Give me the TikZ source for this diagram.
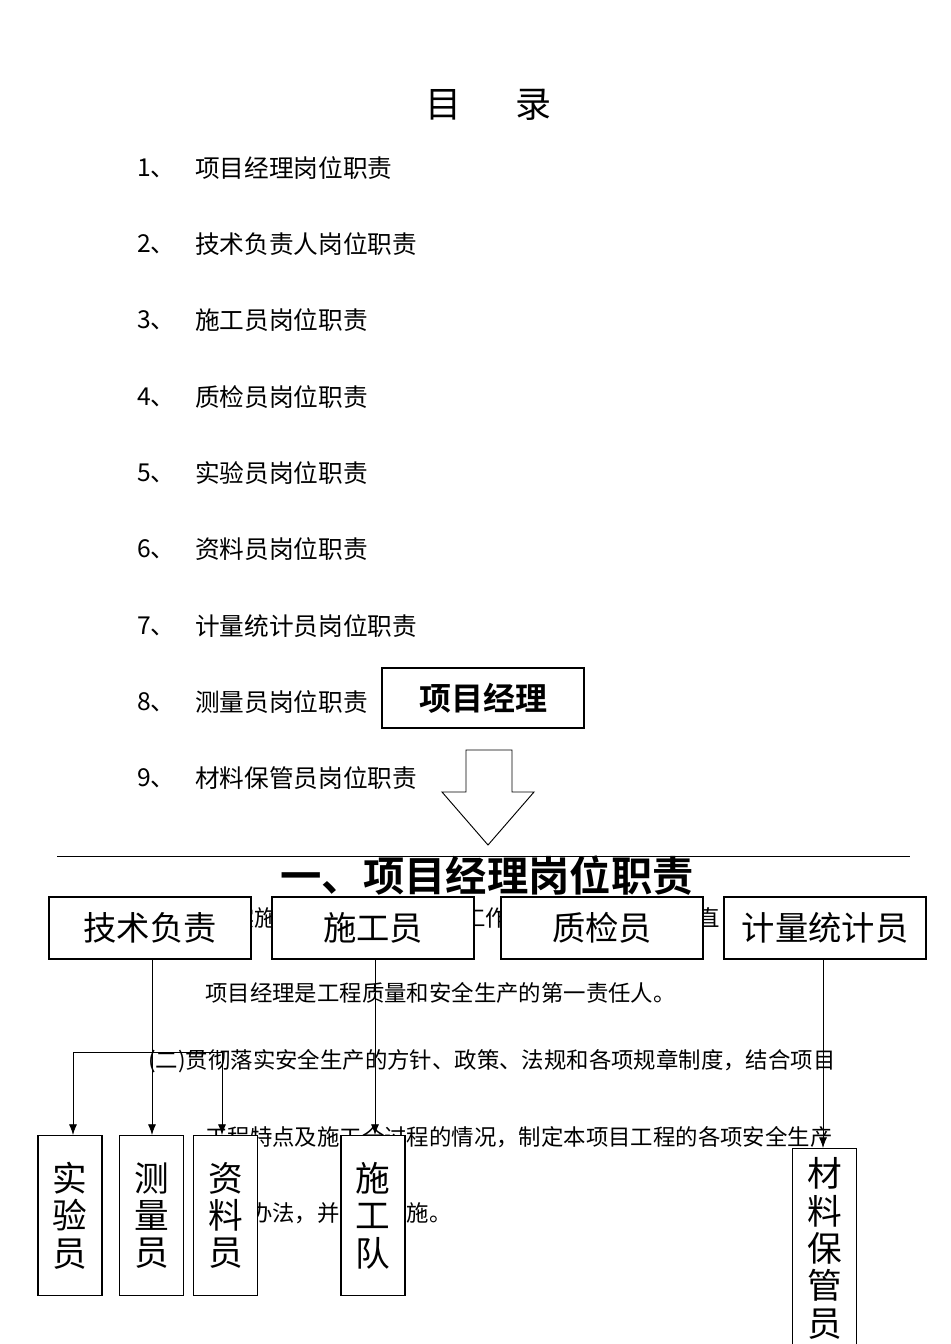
\documentclass[tikz,border=0pt]{standalone}
\usepackage{fontspec}
\setmainfont{Liberation Serif}
\newfontfamily\cjk{Noto Sans CJK SC}
\newfontfamily\cjkb{Noto Sans CJK SC Bold}
\begin{document}
\begin{tikzpicture}[x=0.75pt,y=-0.75pt,
  txt/.style={anchor=west,inner sep=0pt,font=\cjk\fontsize{18.5pt}{20pt}\selectfont},
  ptxt/.style={anchor=west,inner sep=0pt,font=\cjk\fontsize{16.8pt}{18pt}\selectfont},
  hbox/.style={draw,fill=white,line width=0.8pt,minimum width=151.5pt,minimum height=46.5pt,font=\cjk\fontsize{25pt}{27pt}\selectfont},
  vbox/.style={draw,fill=white,line width=0.8pt,minimum width=48pt,anchor=north,align=center,inner sep=0pt,font=\cjk\fontsize{26pt}{28pt}\selectfont},
  arr/.style={-{Latex[length=8pt,width=6pt]},line width=0.6pt}]
\useasboundingbox (0,0) rectangle (950,1344);
\usetikzlibrary{arrows.meta}
\node[font=\cjk\fontsize{27pt}{30pt}\selectfont] (title) at (488,105) {目\hspace{1.5em}录};
\foreach \n/\t/\y in {1/项目经理岗位职责/168,2/技术负责人岗位职责/244,3/施工员岗位职责/320,4/质检员岗位职责/397,5/实验员岗位职责/473,6/资料员岗位职责/549,7/计量统计员岗位职责/626,8/测量员岗位职责/702,9/材料保管员岗位职责/778}{
  \node[txt] (n\n) at (137,\y) {\n\cjk 、};
  \node[txt] (t\n) at (195,\y) {\t};
}
\node[draw,line width=0.8pt,minimum width=151.5pt,minimum height=45pt,font=\cjkb\fontsize{24pt}{26pt}\selectfont] (pm) at (483,698) {项目经理};
\draw[line width=0.7pt] (466,750) -- (512,750) -- (512,792) -- (534,792) -- (488,845) -- (442,792) -- (466,792) -- cycle;
\draw[line width=0.6pt] (57,856) -- (910,856);
\node[font=\cjkb\fontsize{31pt}{33pt}\selectfont] (head) at (487,876) {一、项目经理岗位职责};
% background text
\node[ptxt] (bg1) at (232,918) {实施};
\node[ptxt] (bg2) at (463,918) {工作};
\node[ptxt] (bg3) at (697,918) {直};
\node[ptxt] (p1) at (205,993) {项目经理是工程质量和安全生产的第一责任人。};
\node[ptxt] (p2) at (148,1061) {(二)贯彻落实安全生产的方针、政策、法规和各项规章制度，结合项目};
\node[ptxt] (p3) at (205,1137) {工程特点及施工全过程的情况，制定本项目工程的各项安全生产};
\node[ptxt] (p4) at (205,1213) {管理办法，并监督实施。};
% row boxes
\node[hbox] (js) at (150,928) {技术负责};
\node[hbox] (sg) at (373,928) {施工员};
\node[hbox] (zj) at (602,928) {质检员};
\node[hbox] (jl) at (825,928) {计量统计员};
% vertical boxes
\node[vbox,minimum height=120pt] (sy) at (70,1135) {实\\验\\员};
\node[vbox,minimum height=120pt] (cl) at (151.5,1135) {测\\量\\员};
\node[vbox,minimum height=120pt] (zl) at (225.5,1135) {资\\料\\员};
\node[vbox,minimum height=120pt] (sgd) at (373,1135) {施\\工\\队};
\node[vbox,minimum height=150pt] (cg) at (824.5,1148) {材\\料\\保\\管\\员};
% connectors
\coordinate (br) at (152,1052);
\draw[arr] (js.south -| br) -- (cl.north -| br);
\draw[line width=0.6pt] (73,1052) -- (222,1052);
\draw[arr] (73,1052) -- (sy.north -| 73,0);
\draw[arr] (222,1052) -- (zl.north -| 222,0);
\draw[arr] (sg.south -| 375,0) -- (sgd.north -| 375,0);
\draw[arr] (jl.south -| 823,0) -- (cg.north -| 823,0);
\end{tikzpicture}
\end{document}
